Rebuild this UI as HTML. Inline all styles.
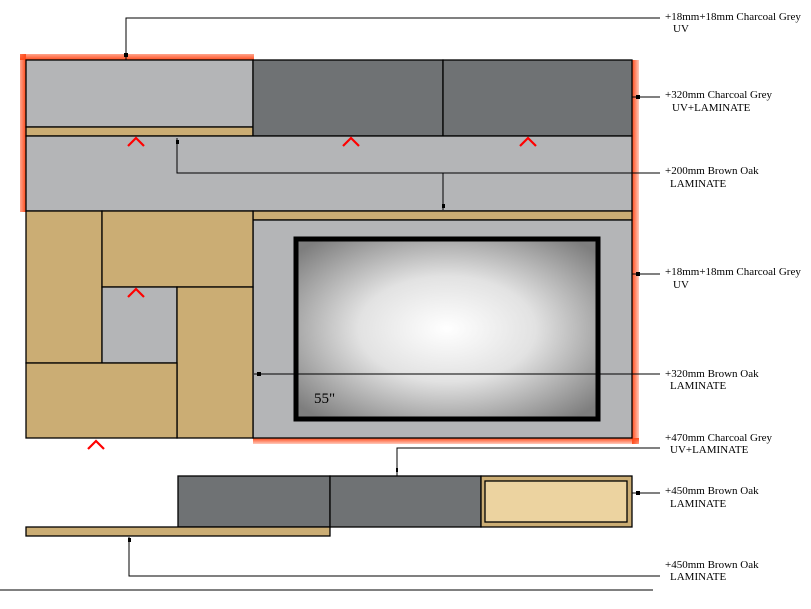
<!DOCTYPE html>
<html><head><meta charset="utf-8"><style>
html,body{margin:0;padding:0;background:#fff;}
svg{display:block;}
text{font-family:"Liberation Serif",serif;font-size:11px;fill:#000;}
</style></head><body>
<svg width="811" height="609" viewBox="0 0 811 609" xmlns="http://www.w3.org/2000/svg">
<defs>
<radialGradient id="tv" cx="50%" cy="50%" r="65%">
<stop offset="0" stop-color="#ffffff"/>
<stop offset="0.45" stop-color="#e2e2e2"/>
<stop offset="1" stop-color="#7e7e7e"/>
</radialGradient>
<linearGradient id="gl" x1="0" x2="1"><stop offset="0" stop-color="#ff4a1a" stop-opacity="0.5"/><stop offset="1" stop-color="#ff4a1a"/></linearGradient>
<linearGradient id="gr" x1="0" x2="1"><stop offset="0" stop-color="#ff4a1a"/><stop offset="1" stop-color="#ff4a1a" stop-opacity="0.3"/></linearGradient>
<linearGradient id="gt" x1="0" y1="0" x2="0" y2="1"><stop offset="0" stop-color="#ff4a1a" stop-opacity="0.5"/><stop offset="1" stop-color="#ff4a1a"/></linearGradient>
<linearGradient id="gb" x1="0" y1="0" x2="0" y2="1"><stop offset="0" stop-color="#ff4a1a"/><stop offset="1" stop-color="#ff4a1a" stop-opacity="0.3"/></linearGradient>
</defs>
<!-- glow -->
<rect x="20" y="54" width="234" height="6" fill="url(#gt)"/>
<rect x="20" y="54" width="6" height="158" fill="url(#gl)"/>
<rect x="632" y="60" width="7" height="384" fill="url(#gr)"/>
<rect x="253" y="438" width="386" height="6" fill="url(#gb)"/>
<g stroke="#000" stroke-width="1.3">
<rect x="26" y="60" width="227" height="67" fill="#b4b5b7"/>
<rect x="26" y="127" width="227" height="9" fill="#cbad74"/>
<rect x="253" y="60" width="190" height="76" fill="#6f7274"/>
<rect x="443" y="60" width="189" height="76" fill="#6f7274"/>
<rect x="26" y="136" width="606" height="75" fill="#b4b5b7"/>
<rect x="253" y="211" width="379" height="9" fill="#cbad74"/>
<rect x="253" y="220" width="379" height="218" fill="#b4b5b7"/>
<rect x="26" y="211" width="76" height="152" fill="#cbad74"/>
<rect x="102" y="211" width="151" height="76" fill="#cbad74"/>
<rect x="102" y="287" width="75" height="76" fill="#b4b5b7"/>
<rect x="177" y="287" width="76" height="151" fill="#cbad74"/>
<rect x="26" y="363" width="151" height="75" fill="#cbad74"/>
<rect x="178" y="476" width="152" height="51" fill="#6f7274"/>
<rect x="330" y="476" width="151" height="51" fill="#6f7274"/>
<rect x="481" y="476" width="151" height="51" fill="#cbad74"/>
<rect x="485" y="481" width="142" height="41" fill="#ecd3a0"/>
<rect x="26" y="527" width="304" height="9" fill="#cbad74"/>
</g>
<rect x="296" y="239" width="302" height="180" fill="url(#tv)" stroke="#000" stroke-width="5"/>
<text x="314" y="403" font-size="15" style="font-size:15px">55"</text>
<!-- leaders -->
<g stroke="#000" stroke-width="1" fill="none">
<polyline points="126,60 126,18 660,18"/>
<line x1="632" y1="97" x2="660" y2="97"/>
<polyline points="177,138 177,173 660,173"/>
<line x1="443" y1="173" x2="443" y2="210"/>
<line x1="632" y1="274" x2="660" y2="274"/>
<line x1="254" y1="374" x2="660" y2="374"/>
<polyline points="397,476 397,448 660,448"/>
<line x1="632" y1="493" x2="660" y2="493"/>
<polyline points="129,537 129,576 660,576"/>
<line x1="0" y1="590" x2="653" y2="590"/>
</g>
<g fill="#000">
<rect x="124" y="53" width="4" height="4"/>
<rect x="176" y="140" width="3" height="4"/>
<rect x="442" y="204" width="3" height="4"/>
<rect x="636" y="95" width="4" height="4"/>
<rect x="636" y="272" width="4" height="4"/>
<rect x="257" y="372" width="4" height="4"/>
<rect x="396" y="468" width="2" height="4"/>
<rect x="636" y="491" width="4" height="4"/>
<rect x="128" y="538" width="3" height="4"/>
</g>
<!-- carets -->
<g stroke="#f00" stroke-width="2.2" fill="none">
<polyline points="128,146 136,138 144,146"/>
<polyline points="343,146 351,138 359,146"/>
<polyline points="520,146 528,138 536,146"/>
<polyline points="128,297 136,289 144,297"/>
<polyline points="88,449 96,441 104,449"/>
</g>
<text x="665" y="20">+18mm+18mm Charcoal Grey</text>
<text x="673" y="32">UV</text>
<text x="665" y="98">+320mm Charcoal Grey</text>
<text x="672" y="111">UV+LAMINATE</text>
<text x="665" y="174">+200mm Brown Oak</text>
<text x="670" y="187">LAMINATE</text>
<text x="665" y="275">+18mm+18mm Charcoal Grey</text>
<text x="673" y="288">UV</text>
<text x="665" y="377">+320mm Brown Oak</text>
<text x="670" y="389">LAMINATE</text>
<text x="665" y="441">+470mm Charcoal Grey</text>
<text x="670" y="453">UV+LAMINATE</text>
<text x="665" y="494">+450mm Brown Oak</text>
<text x="670" y="507">LAMINATE</text>
<text x="665" y="568">+450mm Brown Oak</text>
<text x="670" y="580">LAMINATE</text>
</svg>
</body></html>
